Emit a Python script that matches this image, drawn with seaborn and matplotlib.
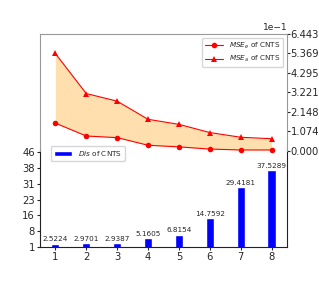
import numpy as np
import pandas as pd
import seaborn as sns
import matplotlib.pyplot as plt
from matplotlib.ticker import ScalarFormatter

# data
steps = [1, 2, 3, 4, 5, 6, 7, 8]
dis = [2.5224, 2.9701, 2.9387, 5.1605, 6.8154, 14.7592, 29.4181, 37.5289]
mse_e = [0.153, 0.082, 0.073, 0.031, 0.022, 0.010, 0.005, 0.005]
mse_a = [0.5369, 0.316, 0.274, 0.174, 0.146, 0.101, 0.075, 0.067]

sns.set_style('ticks')

fig = plt.figure(figsize=(3.19, 2.83), dpi=100)
ax1 = fig.add_axes([0.125, 0.127, 0.775, 0.753])
ax2 = ax1.twinx()

# bars on the left axis
df = pd.DataFrame({'step': steps, 'dis': dis})
sns.barplot(data=df, x='step', y='dis', native_scale=True, width=0.27,
            color='blue', saturation=1, ax=ax1, label='$Dis$ of CNTS')
ax1.bar_label(ax1.containers[0], fmt='%.4f', fontsize=5.2, padding=1)
ax1.set_xlim(0.5, 8.5)
ax1.set_ylim(1, 102)
ax1.set_yticks(np.linspace(1, 46, 7))
ax1.set_yticklabels([str(int(v)) for v in np.linspace(1, 46, 7)])
ax1.set_xticks(steps)
ax1.set_xlabel('')
ax1.set_ylabel('')
ax1.tick_params(labelsize=7.2, length=2.5, pad=1)
ax1.legend(loc='center left', bbox_to_anchor=(0.03, 0.44), fontsize=5.2,
           handlelength=2.5)

# lines on the right axis
sns.lineplot(x=steps, y=mse_e, marker='o', color='red', markersize=4,
             markeredgewidth=0, linewidth=0.8, ax=ax2, label='$MSE_e$ of CNTS')
sns.lineplot(x=steps, y=mse_a, marker='^', color='red', markersize=4,
             markeredgewidth=0, linewidth=0.8, ax=ax2, label='$MSE_a$ of CNTS')
ax2.fill_between(steps, mse_e, mse_a, color='#ffdfae', linewidth=0)
ax2.set_ylim(-0.53, 0.6443)
ax2.set_yticks(np.linspace(0, 0.6443, 7))


class Fmt(ScalarFormatter):
    def _set_format(self):
        self.format = '%.3f'


fmt = Fmt()
fmt.set_powerlimits((-1, -1))
ax2.yaxis.set_major_formatter(fmt)
ax2.yaxis.get_offset_text().set_fontsize(6.5)
ax2.tick_params(labelsize=7.2, length=2, pad=0.5)
ax2.legend(loc='upper right', fontsize=5.2, handlelength=2.5)

# spines: gray frame on top part, dark on the bar part
for s in ['top', 'left', 'right']:
    ax2.spines[s].set_color('#999999')
ax2.spines['bottom'].set_visible(False)
ax2.spines['left'].set_bounds(0, 0.6443)
ax2.spines['right'].set_bounds(0, 0.6443)
ax1.spines['top'].set_visible(False)
for s in ['left', 'right', 'bottom']:
    ax1.spines[s].set_color('#222222')
ax1.spines['left'].set_bounds(1, 47)
ax1.spines['right'].set_bounds(1, 47)

fig.savefig('out.png', dpi=100)
